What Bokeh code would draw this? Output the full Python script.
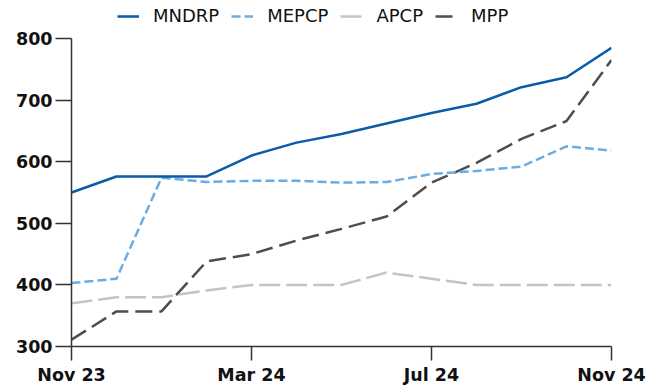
from bokeh.plotting import figure
from bokeh.models import FixedTicker, Legend, LegendItem, Range1d
from bokeh.embed import file_html
from bokeh.resources import INLINE

months = ["Nov 23", "Dec 23", "Jan 24", "Feb 24", "Mar 24", "Apr 24", "May 24",
          "Jun 24", "Jul 24", "Aug 24", "Sep 24", "Oct 24", "Nov 24"]
mndrp = [550, 576, 576, 576, 610, 631, 645, 662, 679, 694, 721, 737, 785]
mepcp = [403, 410, 574, 567, 569, 569, 566, 567, 580, 585, 592, 625, 618]
apcp = [370, 380, 380, 391, 400, 400, 400, 420, 410, 400, 400, 400, 400]
mpp = [311, 357, 357, 438, 450, 472, 491, 511, 566, 598, 637, 666, 765]

tick_months = ["Nov 23", "Mar 24", "Jul 24", "Nov 24"]
y_ticks = [300, 400, 500, 600, 700, 800]

x = list(range(len(months)))

# frame spans full height above the x axis; axis line limited to 300..800
y_top = 300 + 346 / (308 / 500)
p = figure(width=659, height=392, output_backend="svg", toolbar_location=None,
           x_range=Range1d(0, len(months) - 1), y_range=Range1d(300, y_top),
           min_border_left=71, min_border_right=48, min_border_top=0,
           min_border_bottom=46)
p.outline_line_color = None
p.xgrid.visible = False
p.ygrid.visible = False
p.background_fill_color = "white"
p.border_fill_color = "white"

r_apcp = p.line(x, apcp, line_color="#c4c4c4", line_width=2.5, line_dash="21 6")
r_mpp = p.line(x, mpp, line_color="#4d4d4d", line_width=2.5, line_dash="17 7")
r_mepcp = p.line(x, mepcp, line_color="#6aade4", line_width=2.5, line_dash="9 4")
r_mndrp = p.line(x, mndrp, line_color="#0a5ba8", line_width=2.5)

tick_idx = [months.index(m) for m in tick_months]
p.xaxis.ticker = FixedTicker(ticks=tick_idx)
p.xaxis.major_label_overrides = {i: months[i] for i in tick_idx}
p.yaxis.ticker = FixedTicker(ticks=y_ticks)
p.yaxis.bounds = (y_ticks[0], y_ticks[-1])

for ax in (p.xaxis[0], p.yaxis[0]):
    ax.axis_line_color = "#333333"
    ax.axis_line_width = 1.5
    ax.major_tick_line_color = "#333333"
    ax.major_tick_line_width = 1.5
    ax.major_tick_in = 0
    ax.minor_tick_line_color = None
    ax.major_label_text_font = "DejaVu Sans"
    ax.major_label_text_font_style = "bold"
    ax.major_label_text_font_size = "17.5px"
    ax.major_label_text_color = "#111111"
p.xaxis.major_tick_out = 14
p.xaxis.major_label_standoff = 4
p.yaxis.major_tick_out = 16
p.yaxis.major_label_standoff = 3

legend = Legend(items=[
    LegendItem(label="MNDRP", renderers=[r_mndrp]),
    LegendItem(label="MEPCP", renderers=[r_mepcp]),
    LegendItem(label="APCP", renderers=[r_apcp]),
    LegendItem(label="MPP", renderers=[r_mpp]),
], orientation="horizontal", location=(46, 320))
legend.label_text_font = "DejaVu Sans"
legend.label_text_font_size = "18px"
legend.label_text_color = "#111111"
legend.glyph_width = 22
legend.glyph_height = 20
legend.label_height = 20
legend.label_standoff = 14
legend.spacing = 12
legend.padding = 0
legend.margin = 0
legend.border_line_color = None
legend.background_fill_alpha = 0
p.add_layout(legend, "center")

open("out.html", "w").write(file_html(p, INLINE))
